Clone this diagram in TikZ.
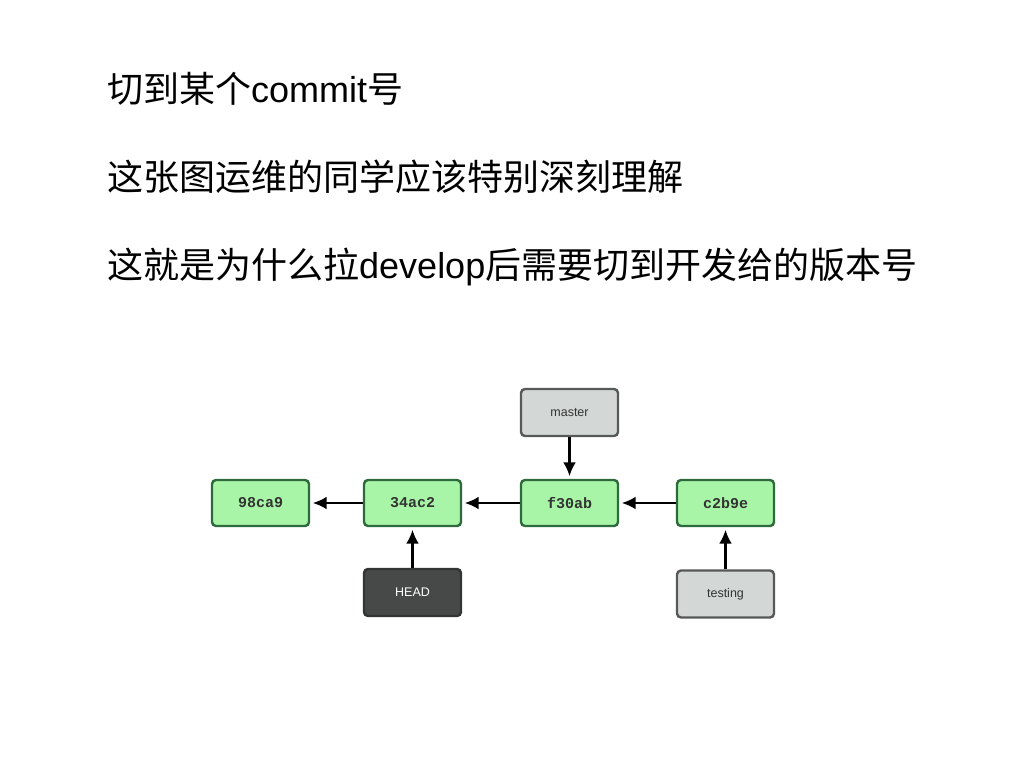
\documentclass[tikz,border=0pt]{standalone}
\usepackage{fontspec}
\setmainfont{Liberation Sans}
\newfontfamily\cjk{Noto Sans CJK SC}
\newfontfamily\monob{Liberation Mono}
\usetikzlibrary{arrows.meta}
\definecolor{cfill}{HTML}{A8F5A8}
\definecolor{cdraw}{HTML}{2F6A3C}
\definecolor{gfill}{HTML}{D3D8D6}
\definecolor{gdraw}{HTML}{575959}
\definecolor{hfill}{HTML}{474948}
\definecolor{hdraw}{HTML}{333434}
\tikzset{
  commitbox/.style={draw=cdraw, fill=cfill, line width=2.4pt, rounded corners=4pt,
    minimum width=97pt, minimum height=46pt, inner sep=0pt,
    font=\monob\bfseries\fontsize{15}{17}\selectfont, text=black!80},
  refbox/.style={draw=gdraw, fill=gfill, line width=2.4pt, rounded corners=4pt,
    minimum width=97pt, minimum height=47pt, inner sep=0pt,
    font=\fontsize{12.5}{14}\selectfont, text=black!80},
  headbox/.style={refbox, draw=hdraw, fill=hfill, text=white},
  title/.style={anchor=base west, inner sep=0pt, font=\fontsize{36}{40}\selectfont},
  link/.style={-{Latex[length=14pt,width=13pt]}, line width=2.6pt, black, shorten >=2.5pt}
}
\begin{document}
\begin{tikzpicture}[x=1pt,y=-1pt]
\useasboundingbox[fill=white] (0,0) rectangle (1024,768);
\node[title] (t1) at (107,102) {{\cjk 切到某个}commit{\cjk 号}};
\node[title] (t2) at (107,190) {\cjk 这张图运维的同学应该特别深刻理解};
\node[title] (t3) at (107,278) {{\cjk 这就是为什么拉}develop{\cjk 后需要切到开发给的版本号}};

\node[commitbox] (c1) at (260.5,503) {98ca9};
\node[commitbox] (c2) at (412.5,503) {34ac2};
\node[commitbox] (c3) at (569.5,503) {f30ab};
\node[commitbox] (c4) at (725.5,503) {c2b9e};
\node[refbox] (master) at (569.5,412.5) {master};
\node[headbox] (head) at (412.5,592.5) {HEAD};
\node[refbox] (testing) at (725.5,594) {testing};

\draw[link] (c2) -- (c1);
\draw[link] (c3) -- (c2);
\draw[link] (c4) -- (c3);
\draw[link] (master) -- (c3);
\draw[link] (head) -- (c2);
\draw[link] (testing) -- (c4);
\end{tikzpicture}
\end{document}
